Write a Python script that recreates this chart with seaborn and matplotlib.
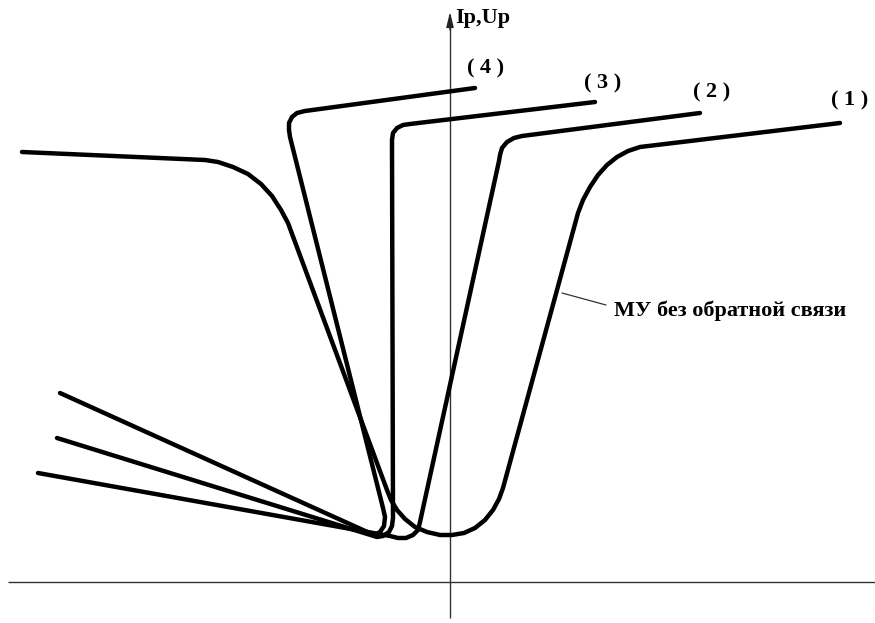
import matplotlib
matplotlib.use("Agg")
import matplotlib.pyplot as plt
import seaborn as sns
import pandas as pd

# Control characteristics of the magnetic amplifier, Ip/Up versus control signal.
# Coordinates are in drawing units with the origin at the axes crossing.

# (1) amplifier without feedback
curve1_x = [-428, -245, -232, -217, -202, -189, -178, -169, -162,
            -63, -59, -53, -45, -35, -23, -10, 2, 14, 25, 35, 43, 49, 53,
            128, 133, 140, 148, 157, 167, 178, 190, 390]
curve1_y = [430, 422, 420, 415, 408, 398, 386, 372, 359,
            92, 82, 72, 63, 55, 50, 47, 47, 49, 54, 62, 72, 83, 94,
            369, 382, 395, 407, 417, 425, 431, 435, 459]

# (2)
curve2_x = [250, 72, 64, 57, 52, 50, 49, -30, -32, -37, -44, -52, -60, -412]
curve2_y = [469, 446, 444, 440, 434, 427, 421, 60, 52, 47, 44, 44, 46, 109]

# (3)
curve3_x = [145, -40, -47, -53, -57, -58, -58, -57, -58, -61, -67, -73, -393]
curve3_y = [480, 458, 457, 454, 449, 442, 436, 64, 56, 50, 46, 45, 144]

# (4)
curve4_x = [25, -145, -153, -158, -161, -161, -160, -67, -65, -66, -70, -76, -390]
curve4_y = [494, 471, 469, 465, 459, 452, 445, 74, 65, 56, 50, 47, 189]

curve_names = ["(1)", "(2)", "(3)", "(4)"]
label_texts = ["( 1 )", "( 2 )", "( 3 )", "( 4 )"]
label_x = [400, 262, 153, 36]
label_y = [482, 490, 499, 514]

axis_label = "Ip,Up"
note_text = "МУ без обратной связи"

sns.set_style("white")
plt.rcParams["font.family"] = ["Liberation Serif", "DejaVu Serif"]

fig = plt.figure(figsize=(8.75, 6.23), dpi=100)
ax = fig.add_axes([0, 0, 1, 1])
ax.set_xlim(-450, 425)
ax.set_ylim(-41, 582)
ax.axis("off")

# coordinate axes
ax.plot([-442, 425], [0, 0], color="#333333", lw=1.0, solid_capstyle="butt")
ax.plot([0, 0], [-36, 560], color="#333333", lw=1.0, solid_capstyle="butt")
ax.annotate("", xy=(0, 570), xytext=(0, 552),
            arrowprops=dict(arrowstyle="-|>,head_length=0.9,head_width=0.22",
                            color="#222222", lw=1.0, shrinkA=0, shrinkB=0))
ax.text(5, 564, axis_label, fontsize=16, fontweight="bold",
        ha="left", va="center", color="black")

frames = []
for name, xs, ys in zip(curve_names,
                        [curve1_x, curve2_x, curve3_x, curve4_x],
                        [curve1_y, curve2_y, curve3_y, curve4_y]):
    frames.append(pd.DataFrame({"x": xs, "y": ys, "curve": name}))
df = pd.concat(frames, ignore_index=True)

for name in curve_names:
    sub = df[df["curve"] == name]
    sns.lineplot(data=sub, x="x", y="y", sort=False, estimator=None,
                 color="black", lw=3.2, ax=ax, legend=False,
                 solid_capstyle="round", solid_joinstyle="round")

for t, x, y in zip(label_texts, label_x, label_y):
    ax.text(x, y, t, fontsize=16, fontweight="bold",
            ha="center", va="center", color="black")

# leader to the curve without feedback
ax.plot([112, 156], [289, 277], color="#333333", lw=0.9)
ax.text(164, 266, note_text, fontsize=16, fontweight="bold",
        ha="left", va="baseline", color="black")

fig.savefig("out.png", dpi=100)
